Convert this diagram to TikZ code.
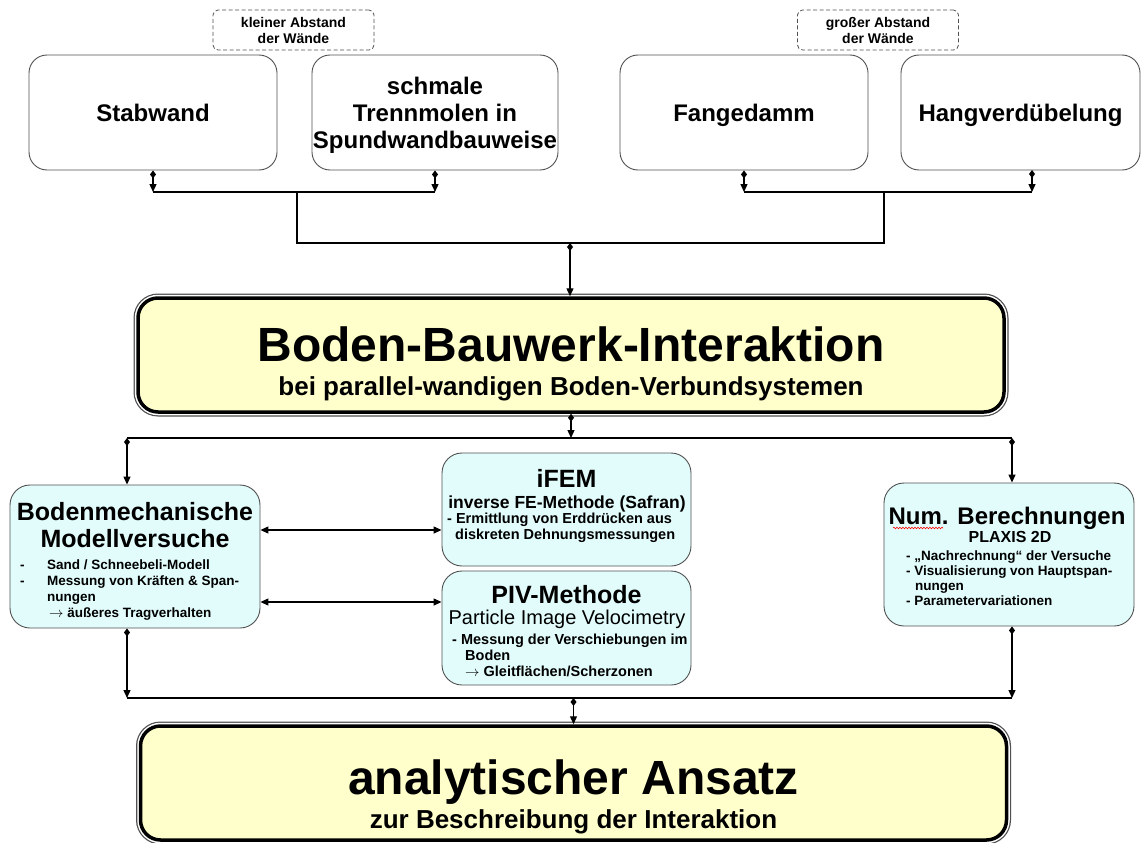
\documentclass[tikz,border=0pt]{standalone}
\usepackage{fontspec}
\setmainfont{Liberation Sans}
\usetikzlibrary{positioning,arrows.meta,decorations.pathmorphing}

\definecolor{panelfill}{RGB}{226,252,252}
\definecolor{mainfill}{RGB}{255,255,204}
\definecolor{rimgray}{RGB}{80,80,80}

\newcommand{\fsz}[2]{\fontsize{#1}{#2}\selectfont}

\begin{document}
\begin{tikzpicture}[x=1pt,y=-1pt,
	wall/.style={draw=rimgray,line width=0.9pt,rounded corners=18pt,minimum width=#1,minimum height=115pt,inner sep=0pt,text depth=0pt,align=center,font=\bfseries\fsz{24}{27}},
	note/.style={draw=rimgray,line width=0.8pt,dash pattern=on 4pt off 2.5pt,rounded corners=5pt,minimum width=161pt,minimum height=40pt,inner sep=0pt,align=center,font=\bfseries\fsz{14}{16}},
	panel/.style={draw=rimgray,fill=panelfill,line width=0.9pt,rounded corners=20pt,minimum width=250pt},
	mainbox/.style={draw=black,fill=mainfill,rounded corners=20pt,line width=3.5pt,minimum width=866pt,minimum height=114pt,
		preaction={draw=rimgray,line width=9pt},preaction={draw=white,line width=6.5pt}},
	bigtitle/.style={inner sep=0pt,anchor=base,font=\bfseries\fsz{48}{54}},
	bigsub/.style={inner sep=0pt,anchor=base,font=\bfseries\fsz{26}{30}},
	headline/.style={inner sep=0pt,font=\bfseries\fsz{25}{27},align=center},
	subline/.style={inner sep=0pt,font=\bfseries\fsz{17.5}{20}},
	items/.style={inner sep=0pt,font=\bfseries\fsz{13.5}{16},align=left},
	feed/.style={line width=1.3pt,arrows={Diamond[width=6pt,length=8pt]-Triangle[width=7pt,length=8pt]}},
	both/.style={line width=1.3pt,arrows={Triangle[width=7pt,length=8pt]-Triangle[width=7pt,length=8pt]}},
	link/.style={line width=1.3pt}
	]
	\useasboundingbox (0,0) rectangle (1141,843);
	
	% wall types
	\node[note] (nsmall) at (293.5,30) {kleiner Abstand\\der Wände};
	\node[note] (nlarge) at (878,30) {großer Abstand\\der Wände};
	
	\node[wall=248pt] (sw) at (153,112.5) {Stabwand};
	\node[wall=246pt] (sm) at (435,112.5) {schmale\\Trennmolen in\\Spundwandbauweise};
	\node[wall=248pt] (fd) at (744,112.5) {Fangedamm};
	\node[wall=239pt] (hv) at (1020.5,112.5) {Hangverdübelung};
	
	% main topic
	\node[mainbox] (bbi) at (571,355) {};
	\node[bigtitle] (bbit) at (571,361) {Boden-Bauwerk-Interaktion};
	\node[bigsub] (bbis) at (571,395) {bei parallel-wandigen Boden-Verbundsystemen};
	
	% methods
	\node[panel,minimum height=143pt] (mv) at (135,556.5) {};
	\node[headline] (mvt) at (135,525) {Bodenmechanische\\Modellversuche};
	\node[items,anchor=west] (mvl) at (20,590) {\makebox[27pt][l]{-}Sand / Schneebeli-Modell\\
		\makebox[27pt][l]{-}Messung von Kräften \& Span-\\
		\hspace*{27pt}nungen\\
		\hspace*{29pt}$\rightarrow$ äußeres Tragverhalten};
	
	\node[panel,minimum width=249pt,minimum height=113pt] (ifem) at (566.5,509.5) {};
	\node[headline,anchor=base] (ifemt) at (566.5,487) {iFEM};
	\node[subline,anchor=base] (ifems) at (567,508) {inverse FE-Methode (Safran)};
	\node[items,anchor=west,font=\bfseries\fsz{14.5}{16}] (ifeml) at (447,528) {- Ermittlung von Erddrücken aus\\
		\hspace*{8pt}diskreten Dehnungsmessungen};
	
	\node[panel,minimum width=249pt,minimum height=114pt] (piv) at (566.5,628) {};
	\node[headline,anchor=base] (pivt) at (566.5,603) {PIV-Methode};
	\node[inner sep=0pt,anchor=base,font=\fsz{20}{22}] (pivs) at (567,624) {Particle Image Velocimetry};
	\node[items,anchor=west,font=\bfseries\fsz{14.5}{16}] (pivl) at (452,655) {- Messung der Verschiebungen im\\
		\hspace*{13pt}Boden\\
		\hspace*{13pt}$\rightarrow$ Gleitflächen/Scherzonen};
	
	\node[panel,minimum height=143pt] (nb) at (1009,554.5) {};
	\node[headline,anchor=base,font=\bfseries\fsz{24}{27}] (nbt) at (1007,524) {Num. Berechnungen};
	\node[subline,anchor=base,font=\bfseries\fsz{16}{19}] (nbs) at (1010,542) {PLAXIS 2D};
	\node[items,anchor=west,font=\bfseries\fsz{13.5}{15}] (nbl) at (906,578) {- „Nachrechnung“ der Versuche\\
		- Visualisierung von Hauptspan-\\
		\hspace*{9pt}nungen\\
		- Parametervariationen};
	\draw[red,line width=0.6pt,decorate,decoration={snake,amplitude=0.8pt,segment length=3pt}] (893,528) -- (943,528);
	
	% result
	\node[mainbox] (ab) at (573.5,783) {};
	\node[bigtitle] (abt) at (573.5,794) {analytischer Ansatz};
	\node[bigsub] (abs) at (573.5,828) {zur Beschreibung der Interaktion};
	
	% junctions
	\coordinate (hvdot) at (1032,170);
	\coordinate (jl) at (297,192);
	\coordinate (jr) at (884,192);
	\coordinate (jm) at (570,243);
	\coordinate (sl) at (127,438);
	\coordinate (sr) at (1012,438);
	\coordinate (h1) at (0,530);
	\coordinate (h2) at (0,602);
	\coordinate (cl) at (127,698);
	\coordinate (cr) at (1012,698);
	
	\draw[feed] (sw.south) -- (sw.south |- jl);
	\draw[feed] (sm.south) -- (sm.south |- jl);
	\draw[link] (sw.south |- jl) -- (sm.south |- jl);
	\draw[feed] (fd.south) -- (fd.south |- jr);
	\draw[feed] (hvdot) -- (hvdot |- jr);
	\draw[link] (fd.south |- jr) -- (hvdot |- jr);
	\draw[link] (jl) -- (jl |- jm) -- (jr |- jm) -- (jr);
	\draw[feed] (jm) -- (jm |- bbi.north);
	
	\draw[feed] (bbi.south) -- (bbi.south |- sl);
	\draw[link] (sl) -- (sr);
	\draw[feed] (sl) -- (sl |- mv.north);
	\draw[feed] (sr) -- (sr |- nb.north);
	
	\draw[both] (mv.east |- h1) -- (ifem.west |- h1);
	\draw[both] (mv.east |- h2) -- (piv.west |- h2);
	
	\draw[feed] (cl |- mv.south) -- (cl);
	\draw[feed] (cr |- nb.south) -- (cr);
	\draw[link] (cl) -- (cr);
	\draw[feed] (cl -| ab.north) -- (ab.north);
\end{tikzpicture}
\end{document}
